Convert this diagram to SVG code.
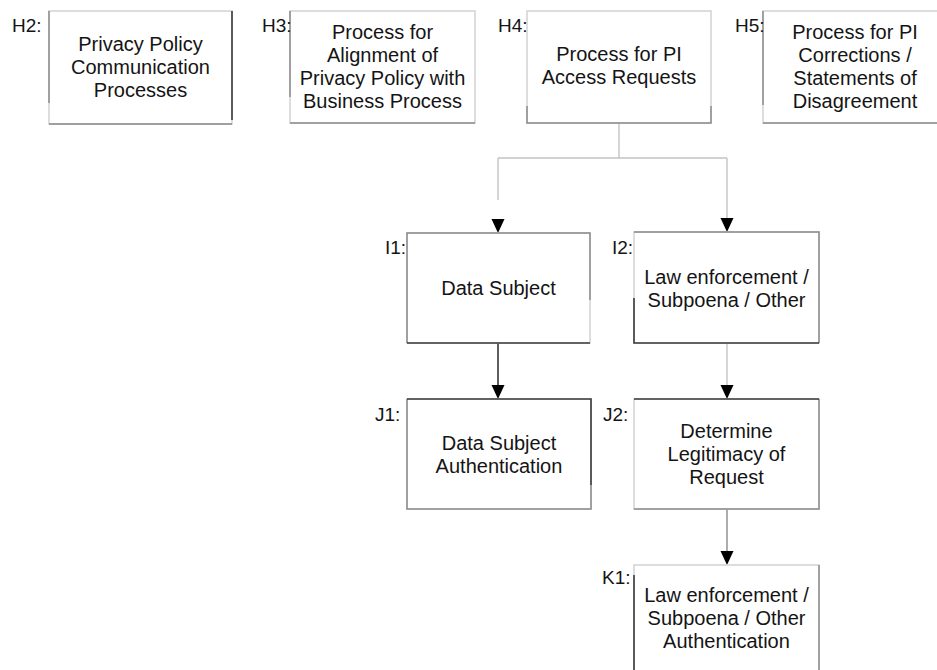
<svg xmlns="http://www.w3.org/2000/svg" width="937" height="670" viewBox="0 0 937 670">
  <style>
    .bg { fill: #ffffff; }
    .box { fill: #ffffff; stroke: #d2d2d2; stroke-width: 1.5; }
    .mid { stroke: #8c8c8c; stroke-width: 1.5; fill: none; }
    .dark { stroke: #3a3a3a; stroke-width: 1.6; fill: none; }
    .txt { font-family: "Liberation Sans", Arial, sans-serif; font-size: 20px; fill: #141414; text-anchor: middle; }
    .lbl { font-family: "Liberation Sans", Arial, sans-serif; font-size: 19px; fill: #141414; }
    .link { stroke: #c4c4c4; stroke-width: 1.4; fill: none; }
    .link-mid { stroke: #8a8a8a; stroke-width: 1.4; fill: none; }
    .link-dark { stroke: #1a1a1a; stroke-width: 1.4; fill: none; }
    .head { fill: #000000; }
  </style>
  <defs>
    <!-- arrowhead, tip at the origin pointing down -->
    <path id="ah" class="head" d="M-6.5,-14 L6.5,-14 L0,0 Z"/>
  </defs>

  <rect class="bg" x="0" y="0" width="937" height="670"/>

  <!-- connectors -->
  <g id="connectors">
    <path class="link" d="M619,124 V158 M498,158 H727 M498,158 V200 M727,158 V219"/>
    <use href="#ah" x="498" y="233"/>
    <use href="#ah" x="727" y="232"/>
    <path class="link-dark" d="M498,343 V386"/>
    <use href="#ah" x="498" y="399"/>
    <path class="link" d="M727,343 V386"/>
    <use href="#ah" x="727" y="399"/>
    <path class="link-mid" d="M727,509 V552"/>
    <use href="#ah" x="727" y="565"/>
  </g>

  <!-- H2 -->
  <g id="H2">
    <rect class="box" x="49" y="11" width="183" height="113"/>
    <path class="mid" d="M49,11 V103 M49,124 H232"/>
    <path class="dark" d="M232,11 V120"/>
    <text class="lbl" x="12" y="32">H2:</text>
    <text class="txt" x="140.5" y="51">Privacy Policy</text>
    <text class="txt" x="140.5" y="74">Communication</text>
    <text class="txt" x="140.5" y="97">Processes</text>
  </g>

  <!-- H3 -->
  <g id="H3">
    <rect class="box" x="290" y="11" width="185" height="112"/>
    <path class="mid" d="M290,11 V97 M290,123 H475"/>
    <text class="lbl" x="262" y="32">H3:</text>
    <text class="txt" x="382.5" y="39">Process for</text>
    <text class="txt" x="382.5" y="62">Alignment of</text>
    <text class="txt" x="382.5" y="85">Privacy Policy with</text>
    <text class="txt" x="382.5" y="108">Business Process</text>
  </g>

  <!-- H4 -->
  <g id="H4">
    <rect class="box" x="527" y="11" width="184" height="112"/>
    <path class="mid" d="M527,106 V123 H711 V106"/>
    <text class="lbl" x="498" y="32">H4:</text>
    <text class="txt" x="619" y="61">Process for PI</text>
    <text class="txt" x="619" y="84">Access Requests</text>
  </g>

  <!-- H5 -->
  <g id="H5">
    <rect class="box" x="763" y="11" width="190" height="112"/>
    <path class="mid" d="M763,11 V105 M763,123 H937"/>
    <text class="lbl" x="735" y="32">H5:</text>
    <text class="txt" x="855" y="39">Process for PI</text>
    <text class="txt" x="855" y="62">Corrections /</text>
    <text class="txt" x="855" y="85">Statements of</text>
    <text class="txt" x="855" y="108">Disagreement</text>
  </g>

  <!-- I1 -->
  <g id="I1">
    <rect class="box" x="407" y="233" width="183" height="110"/>
    <path class="mid" d="M407,343 V233 H590 V300"/>
    <path class="dark" d="M407,343 H590"/>
    <text class="lbl" x="385" y="254">I1:</text>
    <text class="txt" x="498.5" y="295">Data Subject</text>
  </g>

  <!-- I2 -->
  <g id="I2">
    <rect class="box" x="634" y="232" width="185" height="111"/>
    <path class="mid" d="M634,232 H819 V343"/>
    <path class="dark" d="M634,298 V343 H819"/>
    <text class="lbl" x="612" y="254">I2:</text>
    <text class="txt" x="726.5" y="283.5">Law enforcement /</text>
    <text class="txt" x="726.5" y="306.5">Subpoena / Other</text>
  </g>

  <!-- J1 -->
  <g id="J1">
    <rect class="box" x="407" y="399" width="184" height="110"/>
    <path class="mid" d="M407,399 V509 H591 V485"/>
    <path class="dark" d="M407,399 H591 V485"/>
    <text class="lbl" x="375" y="421">J1:</text>
    <text class="txt" x="499" y="449.5">Data Subject</text>
    <text class="txt" x="499" y="472.5">Authentication</text>
  </g>

  <!-- J2 -->
  <g id="J2">
    <rect class="box" x="634" y="399" width="185" height="110"/>
    <path class="mid" d="M819,399 V509 H634"/>
    <path class="dark" d="M634,399 H819"/>
    <text class="lbl" x="603" y="421">J2:</text>
    <text class="txt" x="726.5" y="438">Determine</text>
    <text class="txt" x="726.5" y="461">Legitimacy of</text>
    <text class="txt" x="726.5" y="484">Request</text>
  </g>

  <!-- K1 -->
  <g id="K1">
    <rect class="box" x="634" y="565" width="185" height="115"/>
    <path class="mid" d="M819,565 V670"/>
    <path class="dark" d="M634,575 V670"/>
    <text class="lbl" x="602" y="584">K1:</text>
    <text class="txt" x="726.5" y="602">Law enforcement /</text>
    <text class="txt" x="726.5" y="625">Subpoena / Other</text>
    <text class="txt" x="726.5" y="648">Authentication</text>
  </g>
</svg>
